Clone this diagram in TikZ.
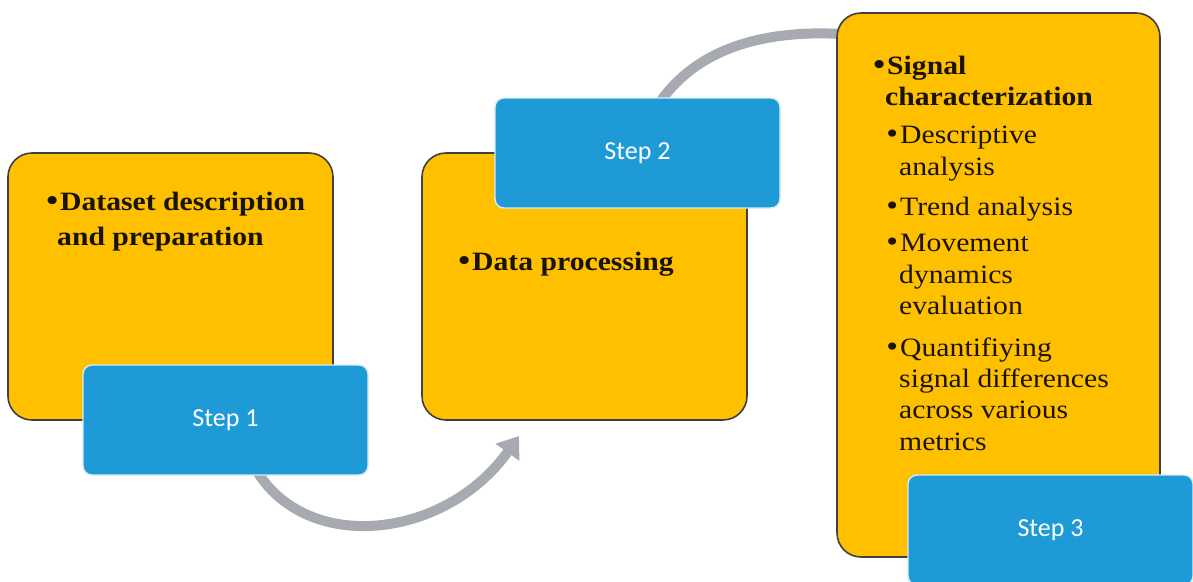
\documentclass[tikz,border=0pt]{standalone}
\usepackage{fontspec}
\setmainfont{Liberation Serif}[FakeStretch=1.12]
\newfontfamily\stepfont{Carlito}
\usetikzlibrary{arrows.meta}

\definecolor{stepblue}{HTML}{1E9BD7}
\definecolor{stepedge}{HTML}{D6ECF8}
\definecolor{panelgold}{HTML}{FFC000}
\definecolor{panelline}{HTML}{404040}
\definecolor{flowgray}{HTML}{A7AAB0}
\definecolor{inkdark}{HTML}{1A1408}

% bullet hanging to the left of a line
\newcommand{\hangbullet}{\llap{{\fontsize{30}{30}\selectfont\textbullet}\hspace{2pt}}}

\begin{document}
\begin{tikzpicture}[x=1pt, y=-1pt,
  panel/.style={draw=panelline, line width=1.6pt, fill=panelgold,
    rounded corners=24pt, inner sep=0pt},
  stepbox/.style={draw=stepedge, line width=1.4pt, fill=stepblue,
    rounded corners=9pt, minimum width=285pt, minimum height=110pt,
    text=white, font=\stepfont\fontsize{26}{30}\selectfont},
  flow/.style={draw=flowgray, line width=10pt},
  head/.style={font=\fontsize{26.5}{31}\selectfont\bfseries,
    anchor=base west, inner sep=0pt, text=inkdark},
  item/.style={font=\fontsize{26.5}{31}\selectfont,
    anchor=base west, inner sep=0pt, text=inkdark}]
\useasboundingbox (0,0) rectangle (1193,581);

% connectors sit underneath the boxes
\coordinate (a1end) at (519,436);
\coordinate (a2end) at (842,34);
\coordinate (a1start) at (255,468);
\coordinate (a2start) at (660,102);

\draw[flow, -{Triangle[width=28pt,length=20pt]}]
  (a1start) .. controls (305,555) and (445,540) .. (a1end);
\draw[flow] (a2start) .. controls (700,45) and (770,30) .. (a2end);

% gold panels
\node[panel, minimum width=325pt, minimum height=267pt] (p1) at (170.5,286.5) {};
\node[panel, minimum width=325pt, minimum height=267pt] (p2) at (584.5,286.5) {};
\node[panel, minimum width=323pt, minimum height=544pt] (p3) at (998.5,285) {};

% blue step labels
\node[stepbox] (s1) at (225.5,420) {Step 1};
\node[stepbox] (s2) at (637.5,153) {Step 2};
\node[stepbox] (s3) at (1050.5,530) {Step 3};

% panel 1 text
\node[head] (t1a) at (60,210) {\hangbullet Dataset description};
\node[head] (t1b) at (57,245) {and preparation};

% panel 2 text
\node[head] (t2a) at (472,270) {\hangbullet Data processing};

% panel 3 text
\node[head] (t3a) at (887,74) {\hangbullet Signal};
\node[head] (t3b) at (885,105) {characterization};
\node[item] (t3c) at (900,143) {\hangbullet Descriptive};
\node[item] (t3d) at (899,175) {analysis};
\node[item] (t3e) at (900,215) {\hangbullet Trend analysis};
\node[item] (t3f) at (900,251) {\hangbullet Movement};
\node[item] (t3g) at (899,283) {dynamics};
\node[item] (t3h) at (899,314) {evaluation};
\node[item] (t3i) at (900,356) {\hangbullet Quantifiying};
\node[item] (t3j) at (899,387) {signal differences};
\node[item] (t3k) at (899,418) {across various};
\node[item] (t3l) at (899,450) {metrics};
\end{tikzpicture}
\end{document}
